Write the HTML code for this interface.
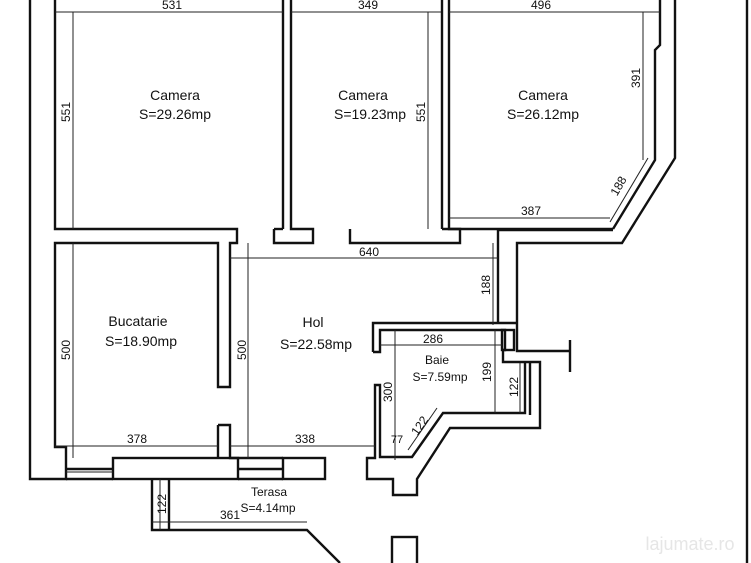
<!DOCTYPE html>
<html><head><meta charset="utf-8"><style>
html,body{margin:0;padding:0;background:#fff;}
svg{display:block;}
text{font-family:"Liberation Sans Narrow","Liberation Sans",sans-serif;fill:#111;}
.w{stroke:#111;stroke-width:2.4;fill:none;}
.d{stroke:#222;stroke-width:1;fill:none;}
.t{font-size:14px;text-anchor:middle;}
.s{font-size:12px;text-anchor:middle;}
</style></head><body>
<svg width="751" height="563" viewBox="0 0 751 563" xmlns="http://www.w3.org/2000/svg">
<!-- outer left wall -->
<polyline class="w" points="30,0 30,479 66,479 66,458"/>
<!-- Camera1 -->
<polyline class="w" points="55,0 55,229 237,229 237,243 230,243 230,387 218,387 218,243 55,243 55,447 66,447 66,458"/>
<line stroke="#fff" stroke-width="3" x1="55" y1="231" x2="55" y2="241"/>
<line class="w" x1="283" y1="0" x2="283" y2="229"/>
<polyline class="w" points="274,229 274,243 313,243 313,229 291,229 291,0"/>
<line class="w" x1="283" y1="229" x2="274" y2="229"/>
<!-- Camera2/3 wall -->
<line class="w" x1="442" y1="0" x2="442" y2="229"/>
<polyline class="w" points="449,0 449,229 613,229"/>
<polyline class="w" points="350,229 350,243 460,243 460,229 442,229"/>
<!-- Camera3 right -->
<polyline class="w" points="660,0 660,45 655,50 655,160 613,229"/>
<polyline class="w" points="675,0 675,158 622,243 517,243 517,351 570,351"/>
<polyline class="w" points="613,230 498,230 498,323"/>
<!-- far right -->
<line class="w" x1="747" y1="0" x2="747" y2="563"/>
<!-- bottom walls -->
<polyline class="w" points="218,425 230,425 230,447"/>
<line class="w" x1="218" y1="425" x2="218" y2="458"/>
<rect class="w" x="113" y="458" width="125" height="21"/>
<line class="w" x1="66" y1="469" x2="113" y2="469"/>
<line class="d" x1="66" y1="472" x2="113" y2="472"/>
<line class="w" x1="66" y1="479" x2="113" y2="479"/>
<polyline class="w" points="230,447 230,458 283,458"/>
<line class="w" x1="238" y1="469" x2="283" y2="469"/>
<line class="w" x1="238" y1="479" x2="283" y2="479"/>
<rect class="w" x="283" y="458" width="42" height="21"/>
<!-- terasa -->
<polyline class="w" points="152,479 152,530 307,530 340,563"/>
<line class="w" x1="169" y1="479" x2="169" y2="530"/>
<line class="d" x1="152" y1="522" x2="307" y2="522"/>
<rect class="w" x="392" y="537" width="25" height="30"/>
<!-- baie -->
<polyline class="w" points="373,352 373,323 498,323"/>
<polyline class="w" points="373,352 380,352 380,330 505,330 505,350 503,350 503,362 540,362 540,428 450,428 417,479 417,495 393,495 393,479 367,479 367,458 375,458 375,385 380,385 380,457 412,457 443,413 525,413 525,363"/>
<line class="w" x1="530" y1="363" x2="530" y2="415"/>
<line class="w" x1="498" y1="323" x2="517" y2="323"/>
<rect class="w" x="502" y="330" width="12" height="20"/>
<line class="w" x1="570" y1="340" x2="570" y2="372"/>
<!-- dimension lines -->
<line class="d" x1="55" y1="12" x2="283" y2="12"/>
<line class="d" x1="291" y1="12" x2="441" y2="12"/>
<line class="d" x1="449" y1="12" x2="660" y2="12"/>
<line class="d" x1="73" y1="12" x2="73" y2="229"/>
<line class="d" x1="428" y1="12" x2="428" y2="229"/>
<line class="d" x1="643" y1="12" x2="643" y2="160"/>
<line class="d" x1="449" y1="218" x2="610" y2="218"/>
<line class="d" x1="610" y1="222" x2="648" y2="158"/>
<line class="d" x1="230" y1="258" x2="498" y2="258"/>
<line class="d" x1="493" y1="243" x2="493" y2="325"/>
<line class="d" x1="73" y1="243" x2="73" y2="458"/>
<line class="d" x1="248" y1="243" x2="248" y2="458"/>
<line class="d" x1="55" y1="446" x2="218" y2="446"/>
<line class="d" x1="230" y1="446" x2="375" y2="446"/>
<line class="d" x1="380" y1="345" x2="502" y2="345"/>
<line class="d" x1="395" y1="330" x2="395" y2="460"/>
<line class="d" x1="495" y1="330" x2="495" y2="413"/>
<line class="d" x1="520" y1="363" x2="520" y2="413"/>
<line class="d" x1="408" y1="450" x2="437" y2="408"/>
<line class="d" x1="160" y1="479" x2="160" y2="530"/>
<!-- room labels -->
<text class="t" x="175" y="100">Camera</text>
<text class="t" x="175" y="119">S=29.26mp</text>
<text class="t" x="363" y="100">Camera</text>
<text class="t" x="370" y="119">S=19.23mp</text>
<text class="t" x="543" y="100">Camera</text>
<text class="t" x="543" y="119">S=26.12mp</text>
<text class="t" x="138" y="326">Bucatarie</text>
<text class="t" x="141" y="346">S=18.90mp</text>
<text class="t" x="313" y="327">Hol</text>
<text class="t" x="316" y="349">S=22.58mp</text>
<text class="s" x="437" y="364">Baie</text>
<text class="s" x="440" y="381">S=7.59mp</text>
<text class="s" x="269" y="496">Terasa</text>
<text class="s" x="268" y="512">S=4.14mp</text>
<!-- dim labels -->
<text class="s" x="172" y="9">531</text>
<text class="s" x="368" y="9">349</text>
<text class="s" x="541" y="9">496</text>
<text class="s" x="531" y="215">387</text>
<text class="s" x="369" y="256">640</text>
<text class="s" x="137" y="443">378</text>
<text class="s" x="305" y="443">338</text>
<text class="s" x="433" y="343">286</text>
<text class="s" x="230" y="519">361</text>
<text class="s" transform="translate(70,112) rotate(-90)">551</text>
<text class="s" transform="translate(425,112) rotate(-90)">551</text>
<text class="s" transform="translate(640,78) rotate(-90)">391</text>
<text class="s" transform="translate(622,188) rotate(-60)">188</text>
<text class="s" transform="translate(490,285) rotate(-90)">188</text>
<text class="s" transform="translate(70,350) rotate(-90)">500</text>
<text class="s" transform="translate(246,350) rotate(-90)">500</text>
<text class="s" transform="translate(491,372) rotate(-90)">199</text>
<text class="s" transform="translate(518,387) rotate(-90)">122</text>
<text class="s" transform="translate(392,392) rotate(-90)">300</text>
<text class="s" transform="translate(423,428) rotate(-55)">122</text>
<text class="s" x="397" y="443" style="font-size:11px">77</text>
<text class="s" transform="translate(166,504) rotate(-90)">122</text>
<text x="690" y="550" style="font-size:18px;fill:#e6e6e6;text-anchor:middle">lajumate.ro</text>
</svg>
</body></html>
